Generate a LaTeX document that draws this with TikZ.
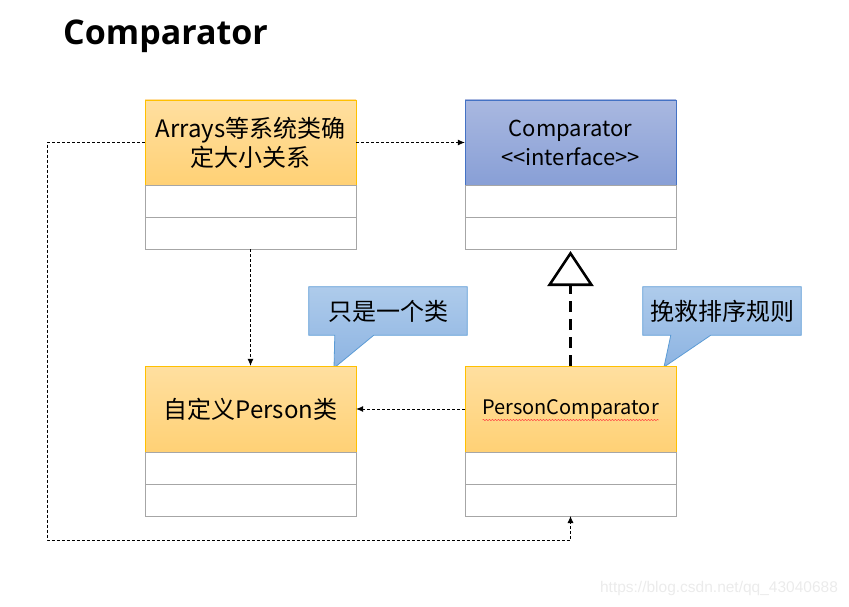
\documentclass[tikz,border=0pt]{standalone}
\usepackage{fontspec}
\setmainfont{Noto Sans CJK SC}
\newfontfamily\titlefont{Open Sans}
\newfontfamily\markfont{Liberation Sans}
\usetikzlibrary{positioning, arrows.meta, backgrounds, decorations.pathmorphing}
\definecolor{headtop}{HTML}{FFDFA0}
\definecolor{headbot}{HTML}{FFD175}
\definecolor{headline}{HTML}{FFC000}
\definecolor{ifacetop}{HTML}{A9B8E0}
\definecolor{ifacebot}{HTML}{889FD6}
\definecolor{ifaceline}{HTML}{4472C4}
\definecolor{notetop}{HTML}{AECBEB}
\definecolor{notebot}{HTML}{8DB4E2}
\definecolor{noteline}{HTML}{5B9BD5}
\definecolor{rowline}{HTML}{A6A6A6}
\tikzset{
  classhead/.style={draw=headline, top color=headtop, bottom color=headbot,
    minimum width=211pt, minimum height=85pt, inner sep=0pt, align=center,
    font=\fontsize{24}{29}\selectfont},
  ifacehead/.style={classhead, draw=ifaceline, top color=ifacetop, bottom color=ifacebot},
  classrow/.style={draw=rowline, fill=white, minimum width=211pt, minimum height=31.5pt, inner sep=0pt},
  dep/.style={densely dashed, line width=0.8pt, -{Latex[length=7pt,width=6pt]}},
  realize/.style={line width=2.6pt, dash pattern=on 11pt off 7pt, shorten >=2pt,
    -{Triangle[open, length=35pt, width=46pt]}},
  notetext/.style={minimum width=158pt, minimum height=48pt, inner sep=0pt,
    font=\fontsize{24}{28}\selectfont},
  notebox/.style={draw=noteline, line width=0.8pt, top color=notetop, bottom color=notebot}
}
\begin{document}
\begin{tikzpicture}[x=1pt, y=-1pt]
\useasboundingbox (0,0) rectangle (849,607);

% title
\node[anchor=base west, inner sep=0pt, font=\titlefont\bfseries\fontsize{34}{34}\selectfont] (title) at (63,45) {Comparator};

% classes
\node[classhead] (arrays) at (250.5,142.5) {Arrays等系统类确\\定大小关系};
\node[classrow, below=0pt of arrays] (arrays1) {};
\node[classrow, below=0pt of arrays1] (arrays2) {};

\node[ifacehead, font=\fontsize{22}{29}\selectfont] (comp) at (570.5,142.5) {Comparator\\<{}<interface>{}>};
\node[classrow, below=0pt of comp] (comp1) {};
\node[classrow, below=0pt of comp1] (comp2) {};

\node[classhead, minimum height=86pt] (person) at (250.5,409) {自定义Person类};
\node[classrow, below=0pt of person] (person1) {};
\node[classrow, below=0pt of person1] (person2) {};

\node[classhead, minimum height=86pt, font=\fontsize{20}{24}\selectfont] (pc) at (570.5,409) {PersonComparator};
\node[classrow, below=0pt of pc] (pc1) {};
\node[classrow, below=0pt of pc1] (pc2) {};
\draw[red!75, line width=0.5pt, decorate, decoration={snake, amplitude=0.6pt, segment length=3pt}]
  ([xshift=-88pt, yshift=-11pt]pc.center) -- ([xshift=88pt, yshift=-11pt]pc.center);

% notes
\node[notetext] (note1) at (388,311) {只是一个类};
\coordinate (tip1) at (334,368);
\node[notetext] (note2) at (722,311) {挽救排序规则};
\coordinate (tip2) at (664,367);
\begin{scope}[on background layer]
\draw[notebox] (note1.south west) -- (note1.north west) -- (note1.north east) -- (note1.south east)
  -- ([xshift=65pt]note1.south west) -- (tip1) -- ([xshift=26pt]note1.south west) -- cycle;
\draw[notebox] (note2.south west) -- (note2.north west) -- (note2.north east) -- (note2.south east)
  -- ([xshift=68pt]note2.south west) -- (tip2) -- ([xshift=28pt]note2.south west) -- cycle;
\end{scope}

% connectors
\draw[dep] (arrays.east) -- (comp.west);
\draw[dep] (arrays2.south) -- (person.north);
\draw[dep] (pc.west) -- (person.east);
\coordinate (loop) at (47,540);
\draw[dep] (arrays.west) -| (loop) -| (pc2.south);
\draw[realize] (pc.north) -- (comp2.south);

% watermark
\node[font=\markfont\fontsize{15.5}{16}\selectfont, text=black!8] (mark) at (719,588) {https://blog.csdn.net/qq\_43040688};
\end{tikzpicture}
\end{document}
